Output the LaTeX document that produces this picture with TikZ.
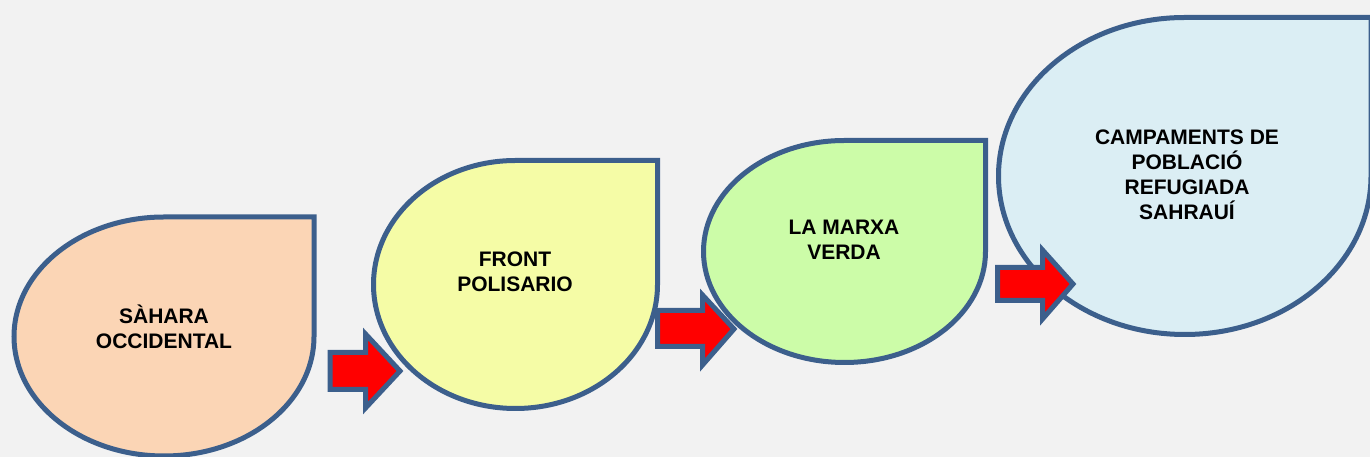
\documentclass[tikz,border=0pt]{standalone}
\usepackage{fontspec}
\setmainfont{Liberation Sans}
\definecolor{bgcol}{HTML}{F2F2F2}
\definecolor{edgecol}{HTML}{3C5F8C}
\definecolor{fillA}{HTML}{FBD5B5}
\definecolor{fillB}{HTML}{F5FCA6}
\definecolor{fillC}{HTML}{CCFCA8}
\definecolor{fillD}{HTML}{DBEEF4}
\definecolor{arrred}{HTML}{FF0000}
\tikzset{
  drop/.style={draw=edgecol, line width=5pt, line join=miter},
  blockarrow/.style={draw=edgecol, fill=arrred, line width=5pt, line join=miter, miter limit=10},
  lbl/.style={align=center, font=\fontsize{21}{25}\selectfont\bfseries, inner sep=0pt}
}
\begin{document}
\begin{tikzpicture}[x=1pt,y=1pt]
\useasboundingbox (0,0) rectangle (1370,457);
\clip (0,0) rectangle (1370,457);
\fill[bgcol] (0,0) rectangle (1370,457);
% teardrops
\path[drop, fill=fillA] (314,240) -- (314,120.5) arc[start angle=0, end angle=-270, x radius=150, y radius=119.5] -- cycle;
\path[drop, fill=fillB] (657.5,296.5) -- (657.5,172.5) arc[start angle=0, end angle=-270, x radius=142, y radius=124] -- cycle;
\path[drop, fill=fillC] (985.5,316.5) -- (985.5,205.5) arc[start angle=0, end angle=-270, x radius=141, y radius=111] -- cycle;
\path[drop, fill=fillD] (1371,439.5) -- (1371,281) arc[start angle=0, end angle=-270, x radius=186.25, y radius=158.5] -- cycle;
% labels
\node[lbl] (t1) at (164,130) {SÀHARA\\OCCIDENTAL};
\node[lbl] (t2) at (515,185) {FRONT\\POLISARIO};
\node[lbl] (t3) at (844,217.5) {LA MARXA\\VERDA};
\node[lbl] (t4) at (1187,282) {CAMPAMENTS DE\\POBLACIÓ\\REFUGIADA\\SAHRAUÍ};
% arrows
\path[blockarrow] (330,104.5) -- (365.5,104.5) -- (365.5,123) -- (400,86) -- (365.5,49) -- (365.5,67.5) -- (330,67.5) -- cycle;
\path[blockarrow] (657.5,146.5) -- (702.5,146.5) -- (702.5,162) -- (734,128) -- (702.5,92) -- (702.5,110.5) -- (657.5,110.5) -- cycle;
\path[blockarrow] (997.5,189.5) -- (1042.5,189.5) -- (1042.5,207) -- (1073,173) -- (1042.5,138) -- (1042.5,156.5) -- (997.5,156.5) -- cycle;
\end{tikzpicture}
\end{document}
